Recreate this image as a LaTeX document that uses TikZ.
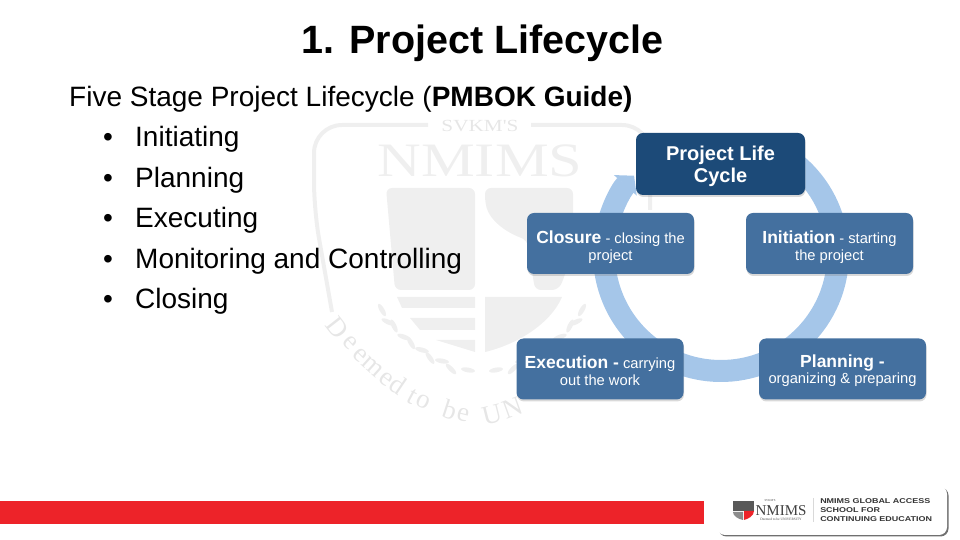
\documentclass[tikz,border=0pt]{standalone}
\usepackage{fontspec}
\setmainfont{Liberation Sans}
\newfontfamily\wmserif{Liberation Serif}
\usetikzlibrary{arrows.meta,shadows}
\definecolor{wmgray}{HTML}{EFEFEF}
\definecolor{wmtext}{HTML}{E6E6E6}
\definecolor{boxblue}{HTML}{44709F}
\definecolor{hubblue}{HTML}{1C4A78}
\definecolor{ringblue}{HTML}{A5C6E9}
\definecolor{barred}{HTML}{ED2329}
\tikzset{
  stagebox/.style={draw=none,fill=boxblue,rounded corners=7pt,minimum width=167pt,minimum height=61pt,inner sep=0pt,
    align=center,text=white,font=\fontsize{14.7}{16.8}\selectfont,
    drop shadow={shadow xshift=0.5pt,shadow yshift=-2pt,opacity=0.3}},
  bodyline/.style={anchor=base west,inner sep=0pt,font=\fontsize{28}{30}\selectfont},
  wmshape/.style={fill=wmgray,draw=none},
  wmletter/.style={inner sep=0pt,text=wmtext,font=\wmserif\fontsize{27}{27}\selectfont},
}
\newcommand{\stagestrut}[1]{\rule{0pt}{#1}}
\newcommand{\stagehead}[1]{{\fontsize{17.5}{16.8}\selectfont\bfseries #1}}
\begin{document}
\begin{tikzpicture}[x=1pt,y=1pt]
\useasboundingbox (0,0) rectangle (960,540);
\draw[wmgray,line width=4pt,rounded corners=28pt] (428,415) -- (314,415) -- (314,330) -- (332,228);     %水印外框左半
\draw[wmgray,line width=4pt,rounded corners=28pt] (531,415) -- (650,415) -- (650,330);     %水印外框右半
\node[inner sep=0pt,text=wmtext,xscale=1.25,font=\wmserif\fontsize{17}{17}\selectfont] (wmtop) at (480,414) {SVKM'S};
\node[inner sep=0pt,text=wmgray,xscale=1.26,font=\wmserif\fontsize{48}{48}\selectfont] (wmname) at (480,379) {NMIMS};
\fill[wmshape,rounded corners=6pt] (386,352) -- (475,352) -- (475,250) -- (395,250) -- cycle;     %盾牌左上
\fill[wmshape,rounded corners=6pt] (485,352) -- (573,352) -- (573,320) .. controls (572,290) and (566,265) .. (558,250) -- (535,250) -- (527,300) .. controls (505,308) and (490,320) .. (485,338) -- cycle;     %盾牌右上
\fill[wmshape] (397,243) -- (475,243) -- (475,232) -- (402,232) -- cycle;     %盾牌条纹
\fill[wmshape] (410,222) -- (475,222) -- (475,210) -- (420,210) -- cycle;
\fill[wmshape] (436,200) -- (475,200) -- (475,188) -- cycle;
\fill[wmshape] (485,243) -- (562,243) .. controls (550,215) and (515,195) .. (485,188) -- cycle;     %盾牌右下
\foreach \side in {1,-1}{
  \foreach \lx/\ly/\lr in {100/230/60,94/218/25,88/214/65,78/203/20,71/197/60,60/190/15,52/182/55,40/179/10,31/171/45,14/170/10}{
    \fill[wmshape,shift={(482+\side*\lx,\ly)},rotate=\side*\lr] (0,0) ellipse (7pt and 2.4pt);     %麦穗
  }
}
\foreach \wmch/\wmx/\wmy/\wmr [count=\wmi] in {D/337/212/-52,e/350/197/-48,e/360/185/-45,m/373/173/-42,e/386/161/-38,d/398/155/-34,t/412/143/-28,o/423/138/-25,b/450/130/-18,e/463/125/-14,U/492/125/14,N/513/132/20}{
  \node[wmletter,rotate=\wmr] (wmletter\wmi) at (\wmx,\wmy) {\wmch};     %水印弧形文字
}

\coordinate (hub) at (721,286);
\draw[ringblue,line width=22pt,-{Triangle[width=30pt,length=13pt]}] ([shift={(50:117pt)}]hub) arc (50:-222:117pt);     %圆环箭头

\node[stagebox,fill=hubblue,minimum width=169pt,minimum height=62pt,font=\fontsize{20}{22}\selectfont\bfseries] (lifecycle) at (720.5,376) {\stagestrut{20pt}Project Life\\Cycle};
\node[stagebox] (closure) at (610.5,296.5) {\stagestrut{20pt}\stagehead{Closure} - closing the\\project};
\node[stagebox] (initiation) at (829.5,296.5) {\stagestrut{20pt}\stagehead{Initiation} - starting\\the project};
\node[stagebox] (execution) at (600,171) {\stagestrut{16pt}\stagehead{Execution -} carrying\\out the work};
\node[stagebox] (planning) at (842.5,171) {\stagestrut{16pt}\stagehead{Planning -}\\organizing \& preparing};

\node[inner sep=0pt,font=\fontsize{39.5}{42}\selectfont\bfseries] (title) at (482.5,497) {1. Project Lifecycle};
\node[bodyline] (intro) at (69,433) {Five Stage Project Lifecycle (\textbf{PMBOK Guide)}};
\foreach \itemname/\itemy/\itemtext in {initiating/393/Initiating,planning/352/Planning,executing/312/Executing,monitoring/271/Monitoring and Controlling,closing/231/Closing}{
  \node[bodyline] (bullet\itemname) at (103,\itemy) {•};
  \node[bodyline] (\itemname) at (135,\itemy) {\itemtext};
}

\fill[barred] (0,16) rectangle (704,39);     %底部红条
\node[fill=white,rounded corners=8pt,minimum width=230pt,minimum height=49pt,inner sep=0pt,
  drop shadow={shadow xshift=1.5pt,shadow yshift=-1.5pt,fill=black!70,opacity=0.8}] (logobox) at (832,29.5) {};
\fill[black!65] (733,39) -- (754,39) -- (754,29) -- (733,29) -- cycle;     %小盾牌
\fill[barred] (744,29) -- (754,29) .. controls (754,24) and (748,21) .. (744,20) -- cycle;
\fill[black!45] (733,28) -- (743,28) -- (743,20) .. controls (738,21) and (733,24) .. cycle;
\node[inner sep=0pt,text=black!75,font=\wmserif\fontsize{15}{15}\selectfont] (logoname) at (781,29.5) {NMIMS};
\node[inner sep=0pt,text=black!70,font=\wmserif\fontsize{3}{3}\selectfont] (logotop) at (770,39) {SVKM'S};
\node[inner sep=0pt,text=black!70,font=\wmserif\fontsize{3.5}{3.5}\selectfont] (logounder) at (781,20.5) {Deemed to be UNIVERSITY};
\draw[black!15,line width=0.7pt] (813,42) -- (813,18);
\node[anchor=west,inner sep=0pt,align=left,xscale=1.28,text=black!80,font=\fontsize{7}{8.6}\selectfont\bfseries] (logotext) at (820,30) {NMIMS GLOBAL ACCESS\\SCHOOL FOR\\CONTINUING EDUCATION};
\end{tikzpicture}
\end{document}
